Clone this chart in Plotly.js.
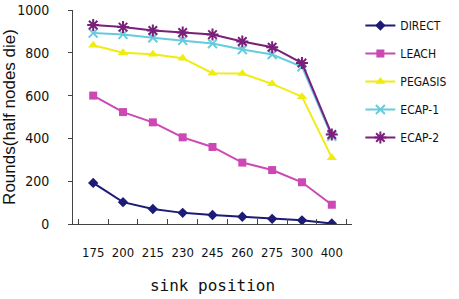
<!DOCTYPE html>
<html>
<head>
<meta charset="utf-8">
<script src="https://cdn.plot.ly/plotly-3.0.1.min.js"></script>
<style>html,body{margin:0;padding:0;background:#fff;}#chart{width:459px;height:299px;}</style>
</head>
<body>
<div id="chart"></div>
<script>
const categories = ["175", "200", "215", "230", "245", "260", "275", "300", "400"];
const seriesNames = ["DIRECT", "LEACH", "PEGASIS", "ECAP-1", "ECAP-2"];
const direct  = [192, 102, 70, 52, 42, 34, 24, 17, 2];
const leach   = [600, 523, 475, 405, 360, 287, 252, 195, 90];
const pegasis = [835, 800, 793, 775, 705, 703, 655, 595, 310];
const ecap1   = [892, 886, 870, 858, 843, 815, 792, 735, 410];
const ecap2   = [930, 920, 904, 895, 885, 853, 826, 752, 418];
const yTicks = [0, 200, 400, 600, 800, 1000];

const values = [direct, leach, pegasis, ecap1, ecap2];
const colors = ["#1c1c78", "#cc48b4", "#f0ec10", "#66ccdd", "#7a1f7a"];
const symbols = ["diamond", "square", "triangle-up", "x-thin-open", "asterisk-open"];
const sizes = [8, 8, 9, 9, 10];

const narrow = "DejaVu Sans Condensed, Liberation Sans Narrow, Arial Narrow, Liberation Sans, sans-serif";

const traces = values.map((v, i) => ({
  type: "scatter",
  mode: "lines+markers",
  name: seriesNames[i],
  legendgroup: "g" + i,
  x: categories,
  y: v,
  line: {color: colors[i], width: 2},
  marker: {
    symbol: symbols[i],
    size: sizes[i],
    color: colors[i],
    line: {color: colors[i], width: (i >= 3 ? 2 : 0)}
  }
}));

const layout = {
  width: 459, height: 299,
  margin: {l: 73, r: 107, t: 10, b: 75, autoexpand: false},
  paper_bgcolor: "#fff", plot_bgcolor: "#fff",
  showlegend: true,
  legend: {
    x: 1.03, y: 0.995, xanchor: "left", yanchor: "top",
    font: {family: narrow, size: 12, color: "#111"},
    tracegroupgap: 9,
    bgcolor: "rgba(0,0,0,0)"
  },
  xaxis: {
    type: "category",
    tickvals: categories,
    ticktext: categories,
    tickson: "boundaries",
    tickangle: 0,
    ticks: "inside", ticklen: 5, tickcolor: "#444", tickwidth: 1,
    showline: true, linecolor: "#444", linewidth: 1,
    showgrid: false, zeroline: false,
    ticklabelstandoff: 16,
    tickfont: {family: narrow, size: 13, color: "#111"},
    title: {text: "sink position", standoff: 21,
            font: {family: "DejaVu Sans Mono, monospace", size: 16, color: "#111"}},
    automargin: false
  },
  yaxis: {
    range: [0, 1000],
    tickvals: yTicks,
    ticks: "outside", ticklen: 4, tickcolor: "#444", tickwidth: 1,
    showline: true, linecolor: "#444", linewidth: 1,
    showgrid: false, zeroline: false,
    ticklabelstandoff: 16,
    tickfont: {family: narrow, size: 14, color: "#111"},
    title: {text: "Rounds(half nodes die)", standoff: 10,
            font: {family: "Liberation Sans, Arial, sans-serif", size: 17, color: "#111"}},
    automargin: false
  }
};

Plotly.newPlot("chart", traces, layout, {displayModeBar: false, staticPlot: true});
</script>
</body>
</html>
